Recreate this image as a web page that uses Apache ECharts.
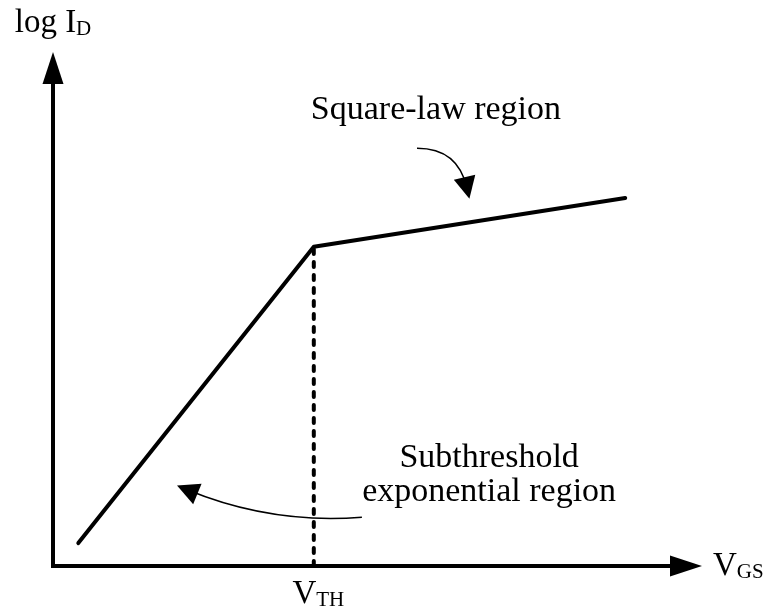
<!DOCTYPE html>
<html>
<head>
<meta charset="utf-8">
<script src="https://cdn.jsdelivr.net/npm/echarts@6/dist/echarts.min.js"></script>
<style>html,body{margin:0;padding:0;background:#fff}#c{width:767px;height:608px}</style>
</head>
<body>
<div id="c"></div>
<script>
// ---- data ----
const curveX = [0.4, 4.12, 9.04];
const curveY = [0.46, 6.41, 7.39];
const vth = 4.12;
const vthTop = 6.41;
const yAxisName = ['log I', 'D'];
const xAxisName = ['V', 'GS'];
const vthLabel = ['V', 'TH'];
const sqLabel = 'Square-law region';
const sqPos = [6.05, 9.15];
const sqArrow = [[5.75, 8.39], [6.54, 7.59]];
const subLabel = 'Subthreshold\nexponential region';
const subPos = [6.89, 1.82];
const subArrow = [[4.88, 0.98], [2.12, 1.53]];

const FONT = '"Liberation Serif", "Times New Roman", serif';
const chart = echarts.init(document.getElementById('c'));
const richT = {
  m: {fontFamily: FONT, fontSize: 33, color: '#000', verticalAlign: 'bottom'},
  s: {fontFamily: FONT, fontSize: 21, color: '#000', verticalAlign: 'bottom'}
};
const arrowPath = 'path://M0,0 L14,0 L7,-22 Z';
const textLabel = {show: true, position: 'inside', color: '#000', opacity: 1, textBorderWidth: 0,
  fontFamily: FONT, fontSize: 34, lineHeight: 34, align: 'center', verticalAlign: 'middle'};

chart.setOption({
  animation: false,
  backgroundColor: '#fff',
  grid: {left: 53, right: 81, top: 68, bottom: 42, outerBoundsMode: 'none', containLabel: false},
  xAxis: {
    type: 'value', min: 0, max: 10,
    name: '{m|' + xAxisName[0] + '}{s|' + xAxisName[1] + '}',
    nameLocation: 'end', nameGap: 27,
    nameTextStyle: {rich: richT},
    axisLine: {show: true, lineStyle: {color: '#000', width: 4, cap: 'square'}, symbol: ['none', 'triangle'], symbolSize: [21, 32]},
    axisTick: {show: false},
    splitLine: {show: false},
    axisLabel: {
      show: true, customValues: [vth], margin: 12, padding: [0, 0, 0, 9],
      formatter: function () { return '{m|' + vthLabel[0] + '}{s|' + vthLabel[1] + '}'; },
      rich: richT
    }
  },
  yAxis: {
    type: 'value', min: 0, max: 10,
    name: '{m|' + yAxisName[0] + '}{s|' + yAxisName[1] + '}',
    nameLocation: 'end', nameGap: 28,
    nameTextStyle: {rich: richT},
    axisLine: {show: true, lineStyle: {color: '#000', width: 4, cap: 'square'}, symbol: ['none', 'triangle'], symbolSize: [21, 32]},
    axisTick: {show: false},
    splitLine: {show: false},
    axisLabel: {show: false}
  },
  series: [
    {
      type: 'line', symbol: 'none', silent: true,
      data: curveX.map((x, i) => [x, curveY[i]]),
      lineStyle: {color: '#000', width: 4, cap: 'round', join: 'round'}
    },
    {
      type: 'line', symbol: 'none', silent: true,
      data: [[vth, 0], [vth, vthTop]],
      lineStyle: {color: '#000', width: 4, type: [5, 8], cap: 'round'}
    },
    {
      type: 'lines', coordinateSystem: 'cartesian2d', silent: true,
      symbol: ['none', arrowPath], symbolSize: 22, symbolKeepAspect: true,
      lineStyle: {color: '#000', width: 1.5, opacity: 1},
      data: [
        {coords: sqArrow, lineStyle: {curveness: 0.4}},
        {coords: subArrow, lineStyle: {curveness: 0.12}}
      ]
    },
    {
      type: 'scatter', symbolSize: 0, silent: true,
      itemStyle: {color: '#000', opacity: 1},
      data: [
        {value: sqPos, label: Object.assign({}, textLabel, {formatter: sqLabel})},
        {value: subPos, label: Object.assign({}, textLabel, {formatter: subLabel})}
      ],
      label: textLabel
    }
  ]
});
</script>
</body>
</html>
